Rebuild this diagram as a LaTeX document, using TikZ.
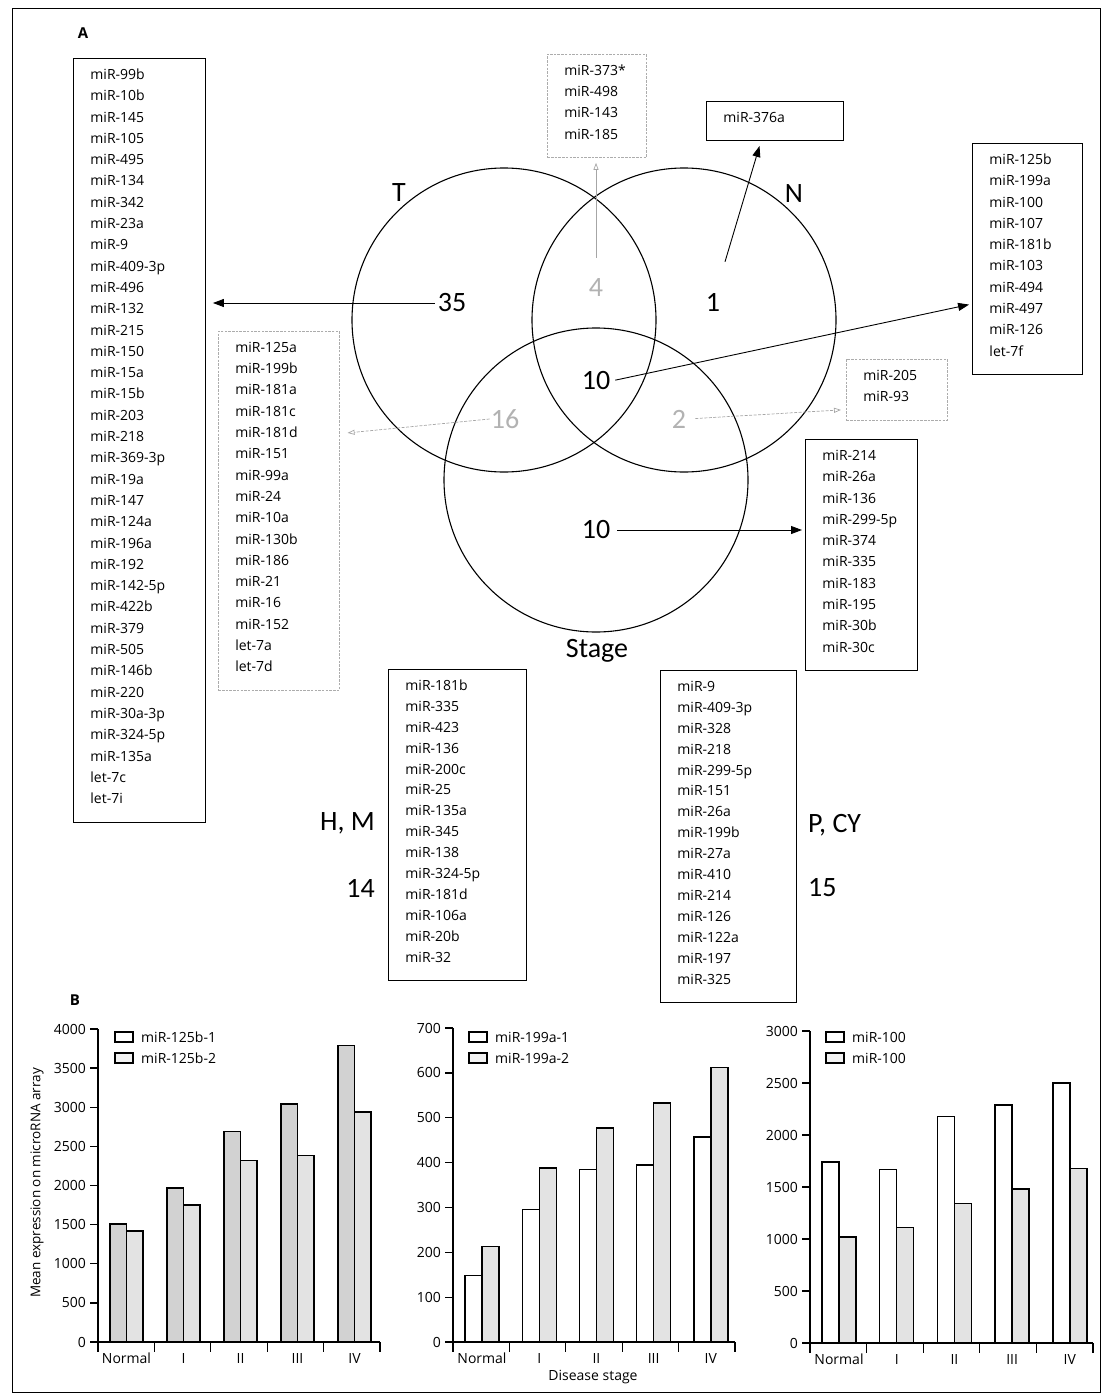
\documentclass[tikz,border=0pt]{standalone}
\usepackage{fontspec}
\setmainfont{Open Sans}
\newfontfamily\vennfont{Carlito}
\usetikzlibrary{matrix,arrows.meta}

\tikzset{
  listbox/.style={matrix of nodes, draw, line width=0.9pt, anchor=north west,
    inner xsep=17pt, inner ysep=9pt,
    nodes={anchor=base west, inner sep=0pt, text width=#1,
      text height=12pt, text depth=9.3pt, font=\fontsize{14}{16}\selectfont}},
  dashbox/.style={listbox=#1, draw=gray!65, line width=0.6pt, dash pattern=on 2.5pt off 1.2pt},
  ring/.style={draw, circle, minimum size=304pt, inner sep=0pt, line width=1.1pt},
  setlabel/.style={font=\vennfont\fontsize{28}{30}\selectfont, inner sep=1pt},
  cnt/.style={font=\vennfont\fontsize{28}{30}\selectfont, inner sep=1pt},
  gcnt/.style={cnt, text=gray!60},
  arr/.style={line width=0.9pt, -{Triangle[length=11pt,width=8pt]}},
  garr/.style={gray!70, line width=0.7pt, -{Triangle[open,length=7pt,width=5pt]}},
  dgarr/.style={garr, dash pattern=on 3pt off 1.5pt},
  bar/.style={draw, line width=1.4pt},
  axisline/.style={line width=1.3pt},
  ticklab/.style={anchor=east, inner sep=0pt, font=\fontsize{14}{16}\selectfont},
  catlab/.style={anchor=north, inner sep=0pt, yshift=-11pt, font=\fontsize{14}{16}\selectfont},
  legbox/.style={draw, line width=1.4pt},
  legtext/.style={anchor=west, inner sep=0pt, font=\fontsize{14}{16}\selectfont},
  panel/.style={font=\bfseries\fontsize{15}{17}\selectfont, inner sep=0pt}
}

\begin{document}
\begin{tikzpicture}[x=1pt, y=-1pt]
\useasboundingbox (0,0) rectangle (1109,1399);
\draw[line width=0.8pt] (12,8) rectangle (1100,1392);

\node[panel] (pA) at (83,33) {A};
\node[panel] (pB) at (75,1000) {B};

% the three sets
\node[ring] (setT) at (504,320) {};
\node[ring] (setN) at (684,320) {};
\node[ring] (setS) at (596,480) {};
\node[setlabel] (labT) at (399,193) {T};
\node[setlabel] (labN) at (794,194) {N};
\node[setlabel] (labS) at (597,651) {Stage};

% counts in each region
\node[cnt]  (c35)  at (452,303) {35};
\node[gcnt] (c4)   at (596,288) {4};
\node[cnt]  (c1)   at (713,302) {1};
\node[cnt]  (c10)  at (596,381) {10};
\node[gcnt] (c16)  at (505,419) {16};
\node[gcnt] (c2)   at (679,419) {2};
\node[cnt]  (c10s) at (596,530) {10};

\node[setlabel, anchor=east] (labHM) at (376,823) {H, M};
\node[cnt, anchor=east]      (c14)   at (376,888) {14};
\node[setlabel, anchor=west] (labPC) at (807,825) {P, CY};
\node[cnt, anchor=west]      (c15)   at (807,888) {15};

% microRNA lists
\matrix (boxT) [listbox=98pt] at (73,58) {
miR-99b \\ miR-10b \\ miR-145 \\ miR-105 \\ miR-495 \\ miR-134 \\ miR-342 \\
miR-23a \\ miR-9 \\ miR-409-3p \\ miR-496 \\ miR-132 \\ miR-215 \\ miR-150 \\
miR-15a \\ miR-15b \\ miR-203 \\ miR-218 \\ miR-369-3p \\ miR-19a \\ miR-147 \\
miR-124a \\ miR-196a \\ miR-192 \\ miR-142-5p \\ miR-422b \\ miR-379 \\ miR-505 \\
miR-146b \\ miR-220 \\ miR-30a-3p \\ miR-324-5p \\ miR-135a \\ let-7c \\ let-7i \\
};
\matrix (boxTS) [dashbox=87pt] at (218,331) {
miR-125a \\ miR-199b \\ miR-181a \\ miR-181c \\ miR-181d \\ miR-151 \\ miR-99a \\
miR-24 \\ miR-10a \\ miR-130b \\ miR-186 \\ miR-21 \\ miR-16 \\ miR-152 \\
let-7a \\ let-7d \\
};
\matrix (boxTN) [dashbox=65pt] at (547,54) {
miR-373* \\ miR-498 \\ miR-143 \\ miR-185 \\
};
\matrix (boxN) [listbox=103pt] at (706,101) {
miR-376a \\
};
\matrix (boxTNS) [listbox=76pt] at (972,143) {
miR-125b \\ miR-199a \\ miR-100 \\ miR-107 \\ miR-181b \\ miR-103 \\ miR-494 \\
miR-497 \\ miR-126 \\ let-7f \\
};
\matrix (boxNS) [dashbox=67pt] at (846,359) {
miR-205 \\ miR-93 \\
};
\matrix (boxS) [listbox=78pt] at (805,439) {
miR-214 \\ miR-26a \\ miR-136 \\ miR-299-5p \\ miR-374 \\ miR-335 \\ miR-183 \\
miR-195 \\ miR-30b \\ miR-30c \\
};
\matrix (boxHM) [listbox=104pt, row sep=-0.4pt] at (388,669) {
miR-181b \\ miR-335 \\ miR-423 \\ miR-136 \\ miR-200c \\ miR-25 \\ miR-135a \\
miR-345 \\ miR-138 \\ miR-324-5p \\ miR-181d \\ miR-106a \\ miR-20b \\ miR-32 \\
};
\matrix (boxPCY) [listbox=102pt, row sep=-0.4pt] at (660,670) {
miR-9 \\ miR-409-3p \\ miR-328 \\ miR-218 \\ miR-299-5p \\ miR-151 \\ miR-26a \\
miR-199b \\ miR-27a \\ miR-410 \\ miR-214 \\ miR-126 \\ miR-122a \\ miR-197 \\
miR-325 \\
};

% region -> list
\draw[arr, shorten <=2pt, shorten >=7pt] (c35.west) -- (c35.west -| boxT.east);
\draw[dgarr, shorten >=8pt] (c16.west) -- ([yshift=77pt]boxTS.east);
\draw[garr, shorten <=20pt, shorten >=5pt] (c4.north) -- (c4.north |- boxTN.south);
\draw[arr, shorten <=42pt, shorten >=5pt] (c1.center) -- ([xshift=-14pt]boxN.south);
\draw[arr, shorten <=4pt, shorten >=3pt] (c10.east) -- ([yshift=-45pt]boxTNS.west);
\draw[dgarr, shorten <=8pt, shorten >=5pt] (c2.east) -- ([yshift=-20pt]boxNS.west);
\draw[arr, shorten <=6pt, shorten >=3pt] (c10s.east) -- (c10s.east -| boxS.west);

% B: bar charts
\begin{scope}[shift={(98,1342)}, y=0.07825pt]
  \draw[axisline] (0,4000) -- (0,0) -- (282,0);
  \foreach \v in {0,500,...,4000} {
    \draw[axisline] (0,\v) -- ++(-8pt,0);
    \node[ticklab] (ya-\v) at (-12,\v) {\v};
  }
  \foreach \i in {0,...,5}
    \draw[axisline] (\i*56.4,0) -- ++(0,-10pt);
  \foreach \a/\b/\c [count=\i from 0] in {1510/1420/Normal, 1970/1750/I, 2690/2320/II, 3040/2380/III, 3790/2940/IV} {
    \draw[bar, fill=gray!35] (12+\i*57,0) rectangle ++(16.5,\a);
    \draw[bar, fill=gray!22] (28.5+\i*57,0) rectangle ++(16.5,\b);
    \node[catlab] (xa-\i) at (28.5+\i*57,0) {\c};
  }
\end{scope}

\begin{scope}[shift={(453,1342)}, y=0.4486pt]
  \draw[axisline] (0,700) -- (0,0) -- (282,0);
  \foreach \v in {0,100,...,700} {
    \draw[axisline] (0,\v) -- ++(-8pt,0);
    \node[ticklab] (yb-\v) at (-12,\v) {\v};
  }
  \foreach \i in {0,...,5}
    \draw[axisline] (\i*56.4,0) -- ++(0,-10pt);
  \foreach \a/\b/\c [count=\i from 0] in {148/213/Normal, 295/388/I, 385/477/II, 395/533/III, 457/612/IV} {
    \draw[bar, fill=white] (12+\i*57.2,0) rectangle ++(17,\a);
    \draw[bar, fill=gray!22] (29+\i*57.2,0) rectangle ++(17,\b);
    \node[catlab] (xb-\i) at (29+\i*57.2,0) {\c};
  }
\end{scope}

\begin{scope}[shift={(810,1343)}, y=0.104pt]
  \draw[axisline] (0,3000) -- (0,0) -- (283,0);
  \foreach \v in {0,500,...,3000} {
    \draw[axisline] (0,\v) -- ++(-8pt,0);
    \node[ticklab] (yc-\v) at (-12,\v) {\v};
  }
  \foreach \i in {0,...,5}
    \draw[axisline] (\i*56.6,0) -- ++(0,-10pt);
  \foreach \a/\b/\c [count=\i from 0] in {1740/1020/Normal, 1670/1110/I, 2180/1340/II, 2290/1480/III, 2500/1680/IV} {
    \draw[bar, fill=white] (12+\i*57.7,0) rectangle ++(17,\a);
    \draw[bar, fill=gray!22] (29+\i*57.7,0) rectangle ++(17,\b);
    \node[catlab] (xc-\i) at (29+\i*57.7,0) {\c};
  }
\end{scope}

% legends
\foreach \lx/\la/\lb [count=\k] in {115/miR-125b-1/miR-125b-2, 469/miR-199a-1/miR-199a-2, 826/miR-100/miR-100} {
  \draw[legbox, fill=white] (\lx,1032) rectangle ++(18,10);
  \draw[legbox, fill=gray!10] (\lx,1053) rectangle ++(18,10);
  \node[legtext] (leg\k a) at (\lx+26,1037) {\la};
  \node[legtext] (leg\k b) at (\lx+26,1058) {\lb};
}

\node[rotate=90, inner sep=0pt, font=\fontsize{13.5}{15}\selectfont] (ytitle) at (37,1183) {Mean expression on microRNA array};
\node[inner sep=0pt, font=\fontsize{14}{16}\selectfont] (xtitle) at (593,1377) {Disease stage};
\end{tikzpicture}
\end{document}
